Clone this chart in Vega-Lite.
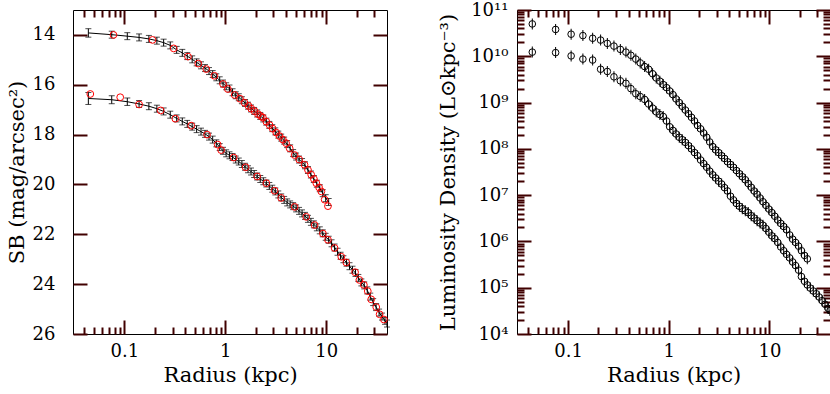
{
  "$schema": "https://vega.github.io/schema/vega-lite/v6.json",
  "padding": {"left": 5, "top": 0, "right": 0, "bottom": 0},
  "spacing": 46,
  "config": {
    "font": "DejaVu Serif",
    "view": {"stroke": "black", "strokeWidth": 1},
    "axis": {"domain": false, "grid": false, "tickColor": "#400000", "tickWidth": 2, "labelFont": "DejaVu Serif", "labelFontSize": 18, "labelColor": "black", "titleFont": "DejaVu Serif", "titleFontSize": 21, "titleFontWeight": "normal", "titleColor": "black"}
  },
  "datasets": {
    "sb": [
      {"gal":"A","r":0.044,"sb":13.92,"err":0.17},{"gal":"A","r":0.075,"sb":13.99,"err":0.14},{"gal":"A","r":0.107,"sb":14.05,"err":0.14},{"gal":"A","r":0.14,"sb":14.1,"err":0.14},{"gal":"A","r":0.175,"sb":14.16,"err":0.14},{"gal":"A","r":0.21,"sb":14.23,"err":0.14},{"gal":"A","r":0.245,"sb":14.31,"err":0.14},{"gal":"A","r":0.285,"sb":14.42,"err":0.14},{"gal":"A","r":0.33,"sb":14.6,"err":0.14},{"gal":"A","r":0.375,"sb":14.72,"err":0.14},{"gal":"A","r":0.42,"sb":14.85,"err":0.14},{"gal":"A","r":0.47,"sb":14.98,"err":0.14},{"gal":"A","r":0.52,"sb":15.1,"err":0.14},{"gal":"A","r":0.575,"sb":15.22,"err":0.14},{"gal":"A","r":0.63,"sb":15.33,"err":0.14},{"gal":"A","r":0.69,"sb":15.45,"err":0.14},{"gal":"A","r":0.75,"sb":15.57,"err":0.14},{"gal":"A","r":0.815,"sb":15.7,"err":0.14},{"gal":"A","r":0.88,"sb":15.82,"err":0.14},{"gal":"A","r":0.95,"sb":15.95,"err":0.14},{"gal":"A","r":1.02,"sb":16.06,"err":0.14},{"gal":"A","r":1.1,"sb":16.15,"err":0.14},{"gal":"A","r":1.18,"sb":16.3,"err":0.14},{"gal":"A","r":1.27,"sb":16.42,"err":0.14},{"gal":"A","r":1.36,"sb":16.5,"err":0.14},{"gal":"A","r":1.46,"sb":16.62,"err":0.14},{"gal":"A","r":1.57,"sb":16.73,"err":0.14},{"gal":"A","r":1.68,"sb":16.84,"err":0.14},{"gal":"A","r":1.8,"sb":16.95,"err":0.14},{"gal":"A","r":1.93,"sb":17.05,"err":0.14},{"gal":"A","r":2.07,"sb":17.15,"err":0.14},{"gal":"A","r":2.22,"sb":17.25,"err":0.14},{"gal":"A","r":2.38,"sb":17.35,"err":0.14},{"gal":"A","r":2.55,"sb":17.48,"err":0.14},{"gal":"A","r":2.73,"sb":17.61,"err":0.14},{"gal":"A","r":2.92,"sb":17.74,"err":0.14},{"gal":"A","r":3.13,"sb":17.87,"err":0.14},{"gal":"A","r":3.35,"sb":18.0,"err":0.14},{"gal":"A","r":3.58,"sb":18.12,"err":0.14},{"gal":"A","r":3.83,"sb":18.24,"err":0.14},{"gal":"A","r":4.1,"sb":18.38,"err":0.14},{"gal":"A","r":4.39,"sb":18.55,"err":0.14},{"gal":"A","r":4.7,"sb":18.74,"err":0.14},{"gal":"A","r":5.03,"sb":18.88,"err":0.14},{"gal":"A","r":5.38,"sb":19.0,"err":0.14},{"gal":"A","r":5.76,"sb":19.1,"err":0.14},{"gal":"A","r":6.16,"sb":19.23,"err":0.14},{"gal":"A","r":6.59,"sb":19.42,"err":0.14},{"gal":"A","r":7.05,"sb":19.6,"err":0.14},{"gal":"A","r":7.54,"sb":19.78,"err":0.14},{"gal":"A","r":8.07,"sb":19.97,"err":0.14},{"gal":"A","r":8.63,"sb":20.15,"err":0.14},{"gal":"A","r":9.23,"sb":20.35,"err":0.14},{"gal":"A","r":9.88,"sb":20.55,"err":0.14},{"gal":"A","r":10.57,"sb":20.7,"err":0.14},
      {"gal":"B","r":0.044,"sb":16.55,"err":0.24},{"gal":"B","r":0.075,"sb":16.6,"err":0.16},{"gal":"B","r":0.107,"sb":16.68,"err":0.15},{"gal":"B","r":0.14,"sb":16.77,"err":0.14},{"gal":"B","r":0.175,"sb":16.86,"err":0.14},{"gal":"B","r":0.21,"sb":16.96,"err":0.14},{"gal":"B","r":0.245,"sb":17.07,"err":0.14},{"gal":"B","r":0.285,"sb":17.2,"err":0.14},{"gal":"B","r":0.33,"sb":17.35,"err":0.14},{"gal":"B","r":0.375,"sb":17.47,"err":0.14},{"gal":"B","r":0.42,"sb":17.57,"err":0.14},{"gal":"B","r":0.47,"sb":17.68,"err":0.14},{"gal":"B","r":0.52,"sb":17.78,"err":0.14},{"gal":"B","r":0.575,"sb":17.88,"err":0.14},{"gal":"B","r":0.63,"sb":17.97,"err":0.14},{"gal":"B","r":0.69,"sb":18.08,"err":0.14},{"gal":"B","r":0.75,"sb":18.2,"err":0.14},{"gal":"B","r":0.815,"sb":18.35,"err":0.14},{"gal":"B","r":0.88,"sb":18.5,"err":0.14},{"gal":"B","r":0.95,"sb":18.65,"err":0.14},{"gal":"B","r":1.02,"sb":18.75,"err":0.14},{"gal":"B","r":1.1,"sb":18.83,"err":0.14},{"gal":"B","r":1.18,"sb":18.9,"err":0.14},{"gal":"B","r":1.27,"sb":19.0,"err":0.14},{"gal":"B","r":1.36,"sb":19.08,"err":0.14},{"gal":"B","r":1.46,"sb":19.18,"err":0.14},{"gal":"B","r":1.57,"sb":19.29,"err":0.14},{"gal":"B","r":1.68,"sb":19.39,"err":0.14},{"gal":"B","r":1.8,"sb":19.48,"err":0.14},{"gal":"B","r":1.93,"sb":19.58,"err":0.14},{"gal":"B","r":2.07,"sb":19.68,"err":0.14},{"gal":"B","r":2.22,"sb":19.78,"err":0.14},{"gal":"B","r":2.38,"sb":19.87,"err":0.14},{"gal":"B","r":2.55,"sb":19.96,"err":0.14},{"gal":"B","r":2.73,"sb":20.06,"err":0.14},{"gal":"B","r":2.92,"sb":20.17,"err":0.14},{"gal":"B","r":3.13,"sb":20.28,"err":0.14},{"gal":"B","r":3.35,"sb":20.4,"err":0.14},{"gal":"B","r":3.58,"sb":20.52,"err":0.14},{"gal":"B","r":3.83,"sb":20.62,"err":0.14},{"gal":"B","r":4.1,"sb":20.72,"err":0.14},{"gal":"B","r":4.39,"sb":20.8,"err":0.14},{"gal":"B","r":4.7,"sb":20.87,"err":0.14},{"gal":"B","r":5.03,"sb":20.96,"err":0.14},{"gal":"B","r":5.38,"sb":21.06,"err":0.14},{"gal":"B","r":5.76,"sb":21.16,"err":0.14},{"gal":"B","r":6.16,"sb":21.26,"err":0.14},{"gal":"B","r":6.59,"sb":21.38,"err":0.14},{"gal":"B","r":7.05,"sb":21.5,"err":0.14},{"gal":"B","r":7.54,"sb":21.6,"err":0.14},{"gal":"B","r":8.07,"sb":21.72,"err":0.14},{"gal":"B","r":8.63,"sb":21.84,"err":0.14},{"gal":"B","r":9.23,"sb":21.96,"err":0.14},{"gal":"B","r":9.88,"sb":22.1,"err":0.14},{"gal":"B","r":10.57,"sb":22.22,"err":0.14},{"gal":"B","r":11.3,"sb":22.36,"err":0.14},{"gal":"B","r":12.1,"sb":22.53,"err":0.14},{"gal":"B","r":12.95,"sb":22.7,"err":0.14},{"gal":"B","r":13.86,"sb":22.86,"err":0.14},{"gal":"B","r":14.8,"sb":23.0,"err":0.14},{"gal":"B","r":15.9,"sb":23.14,"err":0.14},{"gal":"B","r":17.0,"sb":23.28,"err":0.14},{"gal":"B","r":18.2,"sb":23.42,"err":0.14},{"gal":"B","r":19.5,"sb":23.55,"err":0.14},{"gal":"B","r":20.8,"sb":23.75,"err":0.14},{"gal":"B","r":22.3,"sb":23.93,"err":0.14},{"gal":"B","r":23.8,"sb":24.05,"err":0.14},{"gal":"B","r":25.5,"sb":24.25,"err":0.14},{"gal":"B","r":27.3,"sb":24.5,"err":0.14},{"gal":"B","r":29.2,"sb":24.72,"err":0.14},{"gal":"B","r":31.2,"sb":24.92,"err":0.14},{"gal":"B","r":33.4,"sb":25.14,"err":0.14},{"gal":"B","r":35.7,"sb":25.3,"err":0.14},{"gal":"B","r":38.2,"sb":25.47,"err":0.14},{"gal":"B","r":40,"sb":25.58,"err":0.14}
    ],
    "sbred": [
      {"gal":"A","r":0.078,"sb":14.0},{"gal":"A","r":0.19,"sb":14.2},{"gal":"A","r":0.308,"sb":14.54},{"gal":"A","r":0.427,"sb":14.87},{"gal":"A","r":0.54,"sb":15.15},{"gal":"A","r":0.648,"sb":15.37},{"gal":"A","r":0.78,"sb":15.64},{"gal":"A","r":0.95,"sb":15.97},{"gal":"A","r":1.06,"sb":16.17},{"gal":"A","r":1.24,"sb":16.41},{"gal":"A","r":1.4,"sb":16.56},{"gal":"A","r":1.55,"sb":16.72},{"gal":"A","r":1.7,"sb":16.85},{"gal":"A","r":1.81,"sb":16.96},{"gal":"A","r":1.95,"sb":17.06},{"gal":"A","r":2.11,"sb":17.18},{"gal":"A","r":2.25,"sb":17.26},{"gal":"A","r":2.36,"sb":17.32},{"gal":"A","r":2.55,"sb":17.48},{"gal":"A","r":2.75,"sb":17.62},{"gal":"A","r":2.95,"sb":17.76},{"gal":"A","r":3.2,"sb":17.92},{"gal":"A","r":3.45,"sb":18.06},{"gal":"A","r":3.72,"sb":18.2},{"gal":"A","r":4.0,"sb":18.34},{"gal":"A","r":4.34,"sb":18.55},{"gal":"A","r":4.86,"sb":18.82},{"gal":"A","r":5.4,"sb":19.0},{"gal":"A","r":6.1,"sb":19.21},{"gal":"A","r":6.6,"sb":19.42},{"gal":"A","r":7.1,"sb":19.61},{"gal":"A","r":7.55,"sb":19.78},{"gal":"A","r":7.98,"sb":19.95},{"gal":"A","r":8.5,"sb":20.12},{"gal":"A","r":8.95,"sb":20.28},{"gal":"A","r":9.65,"sb":20.61},{"gal":"A","r":10.4,"sb":20.87},
      {"gal":"B","r":0.046,"sb":16.37},{"gal":"B","r":0.091,"sb":16.5},{"gal":"B","r":0.14,"sb":16.79},{"gal":"B","r":0.229,"sb":17.03},{"gal":"B","r":0.32,"sb":17.36},{"gal":"B","r":0.46,"sb":17.64},{"gal":"B","r":0.66,"sb":18.0},{"gal":"B","r":0.84,"sb":18.4},{"gal":"B","r":0.91,"sb":18.62},{"gal":"B","r":1.21,"sb":18.92},{"gal":"B","r":1.59,"sb":19.31},{"gal":"B","r":2.07,"sb":19.68},{"gal":"B","r":2.55,"sb":19.95},{"gal":"B","r":3.08,"sb":20.25},{"gal":"B","r":3.58,"sb":20.54},{"gal":"B","r":4.86,"sb":20.9},{"gal":"B","r":6.34,"sb":21.3},{"gal":"B","r":7.67,"sb":21.63},{"gal":"B","r":9.27,"sb":21.97},{"gal":"B","r":10.4,"sb":22.22},{"gal":"B","r":12.1,"sb":22.55},{"gal":"B","r":14.1,"sb":22.9},{"gal":"B","r":15.8,"sb":23.13},{"gal":"B","r":19.3,"sb":23.52},{"gal":"B","r":21.3,"sb":23.83},{"gal":"B","r":23.6,"sb":24.03},{"gal":"B","r":25.8,"sb":24.28},{"gal":"B","r":27.9,"sb":24.61},{"gal":"B","r":31.3,"sb":24.92},{"gal":"B","r":33.8,"sb":25.21},{"gal":"B","r":37.3,"sb":25.42}
    ],
    "lum": [
      {"gal":"A","r":0.044,"L":5.0e10},{"gal":"A","r":0.075,"L":3.8e10},{"gal":"A","r":0.107,"L":3.0e10},{"gal":"A","r":0.14,"L":2.8e10},{"gal":"A","r":0.175,"L":2.45e10},{"gal":"A","r":0.21,"L":2.24e10},{"gal":"A","r":0.245,"L":1.9e10},{"gal":"A","r":0.285,"L":1.66e10},{"gal":"A","r":0.33,"L":1.41e10},{"gal":"A","r":0.375,"L":1.23e10},{"gal":"A","r":0.42,"L":1.05e10},{"gal":"A","r":0.47,"L":8.7e9},{"gal":"A","r":0.52,"L":7.2e9},{"gal":"A","r":0.575,"L":6.0e9},{"gal":"A","r":0.63,"L":5.25e9},{"gal":"A","r":0.69,"L":4.2e9},{"gal":"A","r":0.75,"L":3.4e9},{"gal":"A","r":0.815,"L":2.9e9},{"gal":"A","r":0.88,"L":2.45e9},{"gal":"A","r":0.95,"L":2.1e9},{"gal":"A","r":1.02,"L":1.78e9},{"gal":"A","r":1.1,"L":1.48e9},{"gal":"A","r":1.18,"L":1.2e9},{"gal":"A","r":1.27,"L":1.0e9},{"gal":"A","r":1.36,"L":8.3e8},{"gal":"A","r":1.46,"L":6.9e8},{"gal":"A","r":1.57,"L":5.75e8},{"gal":"A","r":1.68,"L":4.8e8},{"gal":"A","r":1.8,"L":4.0e8},{"gal":"A","r":1.93,"L":3.2e8},{"gal":"A","r":2.07,"L":2.7e8},{"gal":"A","r":2.22,"L":2.2e8},{"gal":"A","r":2.38,"L":1.78e8},{"gal":"A","r":2.55,"L":1.41e8},{"gal":"A","r":2.73,"L":1.12e8},{"gal":"A","r":2.92,"L":9.5e7},{"gal":"A","r":3.13,"L":8.3e7},{"gal":"A","r":3.35,"L":7.1e7},{"gal":"A","r":3.58,"L":6.2e7},{"gal":"A","r":3.83,"L":5.25e7},{"gal":"A","r":4.1,"L":4.6e7},{"gal":"A","r":4.39,"L":4.0e7},{"gal":"A","r":4.7,"L":3.4e7},{"gal":"A","r":5.03,"L":2.9e7},{"gal":"A","r":5.38,"L":2.5e7},{"gal":"A","r":5.76,"L":2.15e7},{"gal":"A","r":6.16,"L":1.78e7},{"gal":"A","r":6.59,"L":1.48e7},{"gal":"A","r":7.05,"L":1.23e7},{"gal":"A","r":7.54,"L":1.05e7},{"gal":"A","r":8.07,"L":8.7e6},{"gal":"A","r":8.63,"L":7.2e6},{"gal":"A","r":9.23,"L":6.0e6},{"gal":"A","r":9.88,"L":5.0e6},{"gal":"A","r":10.57,"L":4.2e6},{"gal":"A","r":11.3,"L":3.5e6},{"gal":"A","r":12.1,"L":2.9e6},{"gal":"A","r":12.95,"L":2.45e6},{"gal":"A","r":13.86,"L":2.1e6},{"gal":"A","r":14.8,"L":1.78e6},{"gal":"A","r":15.9,"L":1.38e6},{"gal":"A","r":17.0,"L":1.12e6},{"gal":"A","r":18.2,"L":9.5e5},{"gal":"A","r":19.5,"L":7.9e5},{"gal":"A","r":20.8,"L":6.3e5},{"gal":"A","r":22.3,"L":5.0e5},{"gal":"A","r":23.8,"L":4.2e5},
      {"gal":"B","r":0.044,"L":1.23e10},{"gal":"B","r":0.075,"L":1.2e10},{"gal":"B","r":0.107,"L":1.02e10},{"gal":"B","r":0.14,"L":8.7e9},{"gal":"B","r":0.175,"L":8.3e9},{"gal":"B","r":0.21,"L":5.25e9},{"gal":"B","r":0.245,"L":4.7e9},{"gal":"B","r":0.285,"L":3.6e9},{"gal":"B","r":0.33,"L":2.95e9},{"gal":"B","r":0.375,"L":2.6e9},{"gal":"B","r":0.42,"L":2.0e9},{"gal":"B","r":0.47,"L":1.55e9},{"gal":"B","r":0.52,"L":1.35e9},{"gal":"B","r":0.575,"L":1.17e9},{"gal":"B","r":0.63,"L":9.3e8},{"gal":"B","r":0.69,"L":7.6e8},{"gal":"B","r":0.75,"L":6.3e8},{"gal":"B","r":0.815,"L":5.5e8},{"gal":"B","r":0.88,"L":5.0e8},{"gal":"B","r":0.95,"L":4.0e8},{"gal":"B","r":1.02,"L":3.0e8},{"gal":"B","r":1.1,"L":2.5e8},{"gal":"B","r":1.18,"L":2.1e8},{"gal":"B","r":1.27,"L":1.78e8},{"gal":"B","r":1.36,"L":1.58e8},{"gal":"B","r":1.46,"L":1.38e8},{"gal":"B","r":1.57,"L":1.17e8},{"gal":"B","r":1.68,"L":1.0e8},{"gal":"B","r":1.8,"L":8.3e7},{"gal":"B","r":1.93,"L":7.1e7},{"gal":"B","r":2.07,"L":5.75e7},{"gal":"B","r":2.22,"L":4.8e7},{"gal":"B","r":2.38,"L":4.0e7},{"gal":"B","r":2.55,"L":3.3e7},{"gal":"B","r":2.73,"L":2.75e7},{"gal":"B","r":2.92,"L":2.35e7},{"gal":"B","r":3.13,"L":2.0e7},{"gal":"B","r":3.35,"L":1.74e7},{"gal":"B","r":3.58,"L":1.45e7},{"gal":"B","r":3.83,"L":1.23e7},{"gal":"B","r":4.1,"L":9.5e6},{"gal":"B","r":4.39,"L":7.9e6},{"gal":"B","r":4.7,"L":6.6e6},{"gal":"B","r":5.03,"L":5.75e6},{"gal":"B","r":5.38,"L":5.1e6},{"gal":"B","r":5.76,"L":4.6e6},{"gal":"B","r":6.16,"L":4.2e6},{"gal":"B","r":6.59,"L":3.6e6},{"gal":"B","r":7.05,"L":3.2e6},{"gal":"B","r":7.54,"L":2.8e6},{"gal":"B","r":8.07,"L":2.5e6},{"gal":"B","r":8.63,"L":2.24e6},{"gal":"B","r":9.23,"L":1.9e6},{"gal":"B","r":9.88,"L":1.58e6},{"gal":"B","r":10.57,"L":1.32e6},{"gal":"B","r":11.3,"L":1.15e6},{"gal":"B","r":12.1,"L":9.5e5},{"gal":"B","r":12.95,"L":7.6e5},{"gal":"B","r":13.86,"L":6.3e5},{"gal":"B","r":14.8,"L":5.25e5},{"gal":"B","r":15.9,"L":4.4e5},{"gal":"B","r":17.0,"L":3.6e5},{"gal":"B","r":18.2,"L":3.0e5},{"gal":"B","r":19.5,"L":2.4e5},{"gal":"B","r":20.8,"L":1.74e5},{"gal":"B","r":22.3,"L":1.38e5},{"gal":"B","r":23.8,"L":1.15e5},{"gal":"B","r":25.5,"L":9.8e4},{"gal":"B","r":27.3,"L":8.5e4},{"gal":"B","r":29.2,"L":7.4e4},{"gal":"B","r":31.2,"L":6.3e4},{"gal":"B","r":33.4,"L":5.25e4},{"gal":"B","r":35.7,"L":4.4e4},{"gal":"B","r":38.2,"L":3.6e4},{"gal":"B","r":40,"L":3.2e4}
    ]
  },
  "hconcat": [
    {
      "width": 314,
      "height": 324,
      "resolve": {"axis": {"x": "independent", "y": "independent"}},
      "layer": [
        {
          "data": {"name": "sb"},
          "mark": {"type": "line", "color": "black", "strokeWidth": 1},
          "encoding": {
            "x": {"field": "r", "type": "quantitative", "scale": {"type": "log", "domain": [0.031, 40], "nice": false},
                  "axis": {"orient": "bottom", "values": [0.1, 1, 10], "format": "~g", "tickColor": "#400000", "tickWidth": 2, "offset": -14, "tickSize": 14, "labelPadding": 8, "title": "Radius (kpc)", "titlePadding": 4}},
            "y": {"field": "sb", "type": "quantitative", "scale": {"domain": [13, 26], "reverse": true, "nice": false, "zero": false},
                  "axis": {"orient": "left", "values": [14, 16, 18, 20, 22, 24, 26], "tickColor": "#400000", "tickWidth": 2, "offset": -14, "tickSize": 14, "labelPadding": 18, "title": "SB (mag/arcsec²)", "titlePadding": 5}},
            "detail": {"field": "gal"}
          }
        },
        {
          "data": {"name": "sb"},
          "mark": {"type": "errorbar", "ticks": true, "size": 6, "thickness": 1, "color": "black"},
          "encoding": {
            "x": {"field": "r", "type": "quantitative", "scale": {"type": "log", "domain": [0.031, 40], "nice": false}, "axis": null},
            "y": {"field": "sb", "type": "quantitative", "scale": {"domain": [13, 26], "reverse": true, "nice": false, "zero": false}, "axis": null},
            "yError": {"field": "err"}
          }
        },
        {
          "data": {"name": "sbred"},
          "mark": {"type": "point", "shape": "circle", "filled": false, "color": "#ff0000", "size": 46, "strokeWidth": 1, "opacity": 1},
          "encoding": {
            "x": {"field": "r", "type": "quantitative", "scale": {"type": "log", "domain": [0.031, 40], "nice": false},
                  "axis": {"orient": "bottom", "values": [0.04,0.05,0.06,0.07,0.08,0.09,0.2,0.3,0.4,0.5,0.6,0.7,0.8,0.9,2,3,4,5,6,7,8,9,20,30], "tickColor": "#400000", "tickWidth": 2, "offset": -7, "tickSize": 7, "labels": false, "title": null}},
            "y": {"field": "sb", "type": "quantitative", "scale": {"domain": [13, 26], "reverse": true, "nice": false, "zero": false},
                  "axis": {"orient": "right", "values": [14, 16, 18, 20, 22, 24, 26], "tickColor": "#400000", "tickWidth": 2, "offset": -14, "tickSize": 14, "labels": false, "title": null}}
          }
        },
        {
          "data": {"name": "sb"},
          "mark": {"type": "point", "opacity": 0},
          "encoding": {
            "x": {"field": "r", "type": "quantitative", "scale": {"type": "log", "domain": [0.031, 40], "nice": false},
                  "axis": {"orient": "top", "values": [0.1, 1, 10], "tickColor": "#400000", "tickWidth": 2, "offset": -14, "tickSize": 14, "labels": false, "title": null}},
            "y": {"field": "sb", "type": "quantitative", "scale": {"domain": [13, 26], "reverse": true, "nice": false, "zero": false}, "axis": null}
          }
        },
        {
          "data": {"name": "sb"},
          "mark": {"type": "point", "opacity": 0},
          "encoding": {
            "x": {"field": "r", "type": "quantitative", "scale": {"type": "log", "domain": [0.031, 40], "nice": false},
                  "axis": {"orient": "top", "values": [0.04,0.05,0.06,0.07,0.08,0.09,0.2,0.3,0.4,0.5,0.6,0.7,0.8,0.9,2,3,4,5,6,7,8,9,20,30], "tickColor": "#400000", "tickWidth": 2, "offset": -7, "tickSize": 7, "labels": false, "title": null}},
            "y": {"field": "sb", "type": "quantitative", "scale": {"domain": [13, 26], "reverse": true, "nice": false, "zero": false}, "axis": null}
          }
        }
      ]
    },
    {
      "width": 313,
      "height": 324,
      "resolve": {"axis": {"x": "independent", "y": "independent"}},
      "layer": [
        {
          "data": {"name": "lum"},
          "mark": {"type": "point", "shape": "circle", "filled": false, "color": "black", "size": 44, "strokeWidth": 1, "opacity": 1},
          "encoding": {
            "x": {"field": "r", "type": "quantitative", "scale": {"type": "log", "domain": [0.031, 40], "nice": false},
                  "axis": {"orient": "bottom", "values": [0.1, 1, 10], "format": "~g", "tickColor": "#400000", "tickWidth": 2, "offset": -14, "tickSize": 14, "labelPadding": 8, "title": "Radius (kpc)", "titlePadding": 4}},
            "y": {"field": "L", "type": "quantitative", "scale": {"type": "log", "domain": [1e4, 1e11], "nice": false},
                  "axis": {"orient": "left", "values": [1e4, 1e5, 1e6, 1e7, 1e8, 1e9, 1e10, 1e11], "labelExpr": "['10⁴','10⁵','10⁶','10⁷','10⁸','10⁹','10¹⁰','10¹¹'][round(log(datum.value)/LN10)-4]", "tickColor": "#400000", "tickWidth": 2, "offset": -14, "tickSize": 14, "labelPadding": 9, "title": "Luminosity Density (L⊙kpc⁻³)", "titlePadding": 12}}
          }
        },
        {
          "data": {"name": "lum"},
          "mark": {"type": "tick", "orient": "vertical", "size": 11, "thickness": 1, "color": "black", "opacity": 1},
          "encoding": {
            "x": {"field": "r", "type": "quantitative", "scale": {"type": "log", "domain": [0.031, 40], "nice": false},
                  "axis": {"orient": "bottom", "values": [0.04,0.05,0.06,0.07,0.08,0.09,0.2,0.3,0.4,0.5,0.6,0.7,0.8,0.9,2,3,4,5,6,7,8,9,20,30], "tickColor": "#400000", "tickWidth": 2, "offset": -7, "tickSize": 7, "labels": false, "title": null}},
            "y": {"field": "L", "type": "quantitative", "scale": {"type": "log", "domain": [1e4, 1e11], "nice": false},
                  "axis": {"orient": "left", "values": [2e4,3e4,4e4,5e4,6e4,7e4,8e4,9e4,2e5,3e5,4e5,5e5,6e5,7e5,8e5,9e5,2e6,3e6,4e6,5e6,6e6,7e6,8e6,9e6,2e7,3e7,4e7,5e7,6e7,7e7,8e7,9e7,2e8,3e8,4e8,5e8,6e8,7e8,8e8,9e8,2e9,3e9,4e9,5e9,6e9,7e9,8e9,9e9,2e10,3e10,4e10,5e10,6e10,7e10,8e10,9e10], "tickColor": "#400000", "tickWidth": 2, "offset": -7, "tickSize": 7, "labels": false, "title": null}}
          }
        },
        {
          "data": {"name": "lum"},
          "mark": {"type": "point", "opacity": 0},
          "encoding": {
            "x": {"field": "r", "type": "quantitative", "scale": {"type": "log", "domain": [0.031, 40], "nice": false},
                  "axis": {"orient": "top", "values": [0.1, 1, 10], "tickColor": "#400000", "tickWidth": 2, "offset": -14, "tickSize": 14, "labels": false, "title": null}},
            "y": {"field": "L", "type": "quantitative", "scale": {"type": "log", "domain": [1e4, 1e11], "nice": false},
                  "axis": {"orient": "right", "values": [1e4, 1e5, 1e6, 1e7, 1e8, 1e9, 1e10, 1e11], "tickColor": "#400000", "tickWidth": 2, "offset": -14, "tickSize": 14, "labels": false, "title": null}}
          }
        },
        {
          "data": {"name": "lum"},
          "mark": {"type": "point", "opacity": 0},
          "encoding": {
            "x": {"field": "r", "type": "quantitative", "scale": {"type": "log", "domain": [0.031, 40], "nice": false},
                  "axis": {"orient": "top", "values": [0.04,0.05,0.06,0.07,0.08,0.09,0.2,0.3,0.4,0.5,0.6,0.7,0.8,0.9,2,3,4,5,6,7,8,9,20,30], "tickColor": "#400000", "tickWidth": 2, "offset": -7, "tickSize": 7, "labels": false, "title": null}},
            "y": {"field": "L", "type": "quantitative", "scale": {"type": "log", "domain": [1e4, 1e11], "nice": false},
                  "axis": {"orient": "right", "values": [2e4,3e4,4e4,5e4,6e4,7e4,8e4,9e4,2e5,3e5,4e5,5e5,6e5,7e5,8e5,9e5,2e6,3e6,4e6,5e6,6e6,7e6,8e6,9e6,2e7,3e7,4e7,5e7,6e7,7e7,8e7,9e7,2e8,3e8,4e8,5e8,6e8,7e8,8e8,9e8,2e9,3e9,4e9,5e9,6e9,7e9,8e9,9e9,2e10,3e10,4e10,5e10,6e10,7e10,8e10,9e10], "tickColor": "#400000", "tickWidth": 2, "offset": -7, "tickSize": 7, "labels": false, "title": null}}
          }
        }
      ]
    }
  ]
}
